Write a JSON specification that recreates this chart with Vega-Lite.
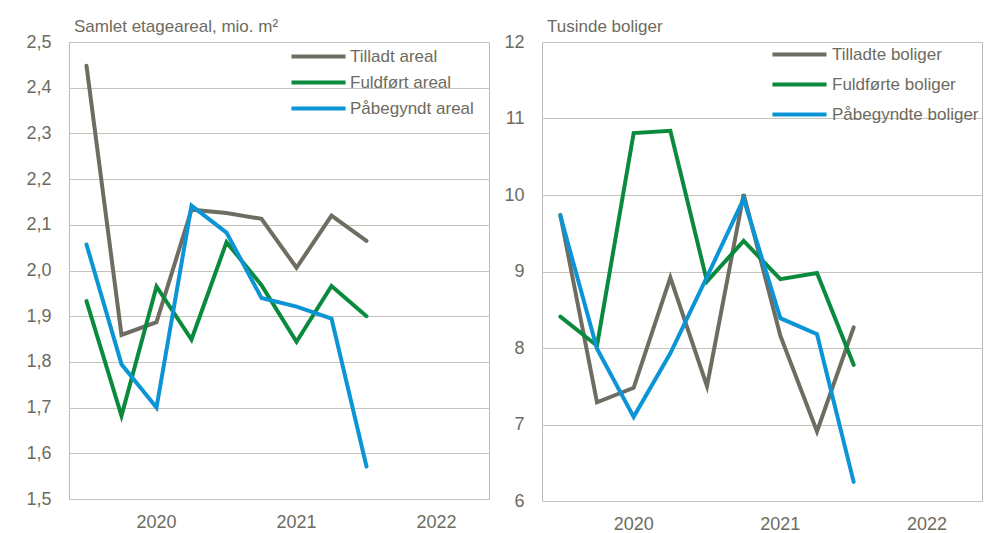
{
  "$schema": "https://vega.github.io/schema/vega-lite/v6.json",
  "background": "white",
  "padding": {"left": 25, "top": 17, "right": 5, "bottom": 5},
  "spacing": 13,
  "config": {
    "font": "Liberation Sans",
    "view": {"stroke": "#bcbab0", "strokeWidth": 1},
    "axis": {"labelColor": "#6d6b60", "labelFontSize": 18, "labelFont": "Liberation Sans", "gridColor": "#c6c4ba", "gridWidth": 1, "ticks": false, "domain": false, "title": null},
    "legend": {"labelColor": "#6d6b60", "labelFontSize": 17, "labelFont": "Liberation Sans", "title": null},
    "line": {"strokeWidth": 4, "strokeCap": "round"}
  },
  "datasets": {
    "areal": [
      {"kvartal": "2020K1", "serie": "Tilladt areal", "v": 2.448},
      {"kvartal": "2020K2", "serie": "Tilladt areal", "v": 1.859},
      {"kvartal": "2020K3", "serie": "Tilladt areal", "v": 1.887},
      {"kvartal": "2020K4", "serie": "Tilladt areal", "v": 2.133},
      {"kvartal": "2021K1", "serie": "Tilladt areal", "v": 2.126},
      {"kvartal": "2021K2", "serie": "Tilladt areal", "v": 2.113},
      {"kvartal": "2021K3", "serie": "Tilladt areal", "v": 2.006},
      {"kvartal": "2021K4", "serie": "Tilladt areal", "v": 2.12},
      {"kvartal": "2022K1", "serie": "Tilladt areal", "v": 2.065},
      {"kvartal": "2020K1", "serie": "Fuldført areal", "v": 1.933},
      {"kvartal": "2020K2", "serie": "Fuldført areal", "v": 1.682},
      {"kvartal": "2020K3", "serie": "Fuldført areal", "v": 1.965},
      {"kvartal": "2020K4", "serie": "Fuldført areal", "v": 1.849},
      {"kvartal": "2021K1", "serie": "Fuldført areal", "v": 2.062},
      {"kvartal": "2021K2", "serie": "Fuldført areal", "v": 1.968},
      {"kvartal": "2021K3", "serie": "Fuldført areal", "v": 1.844},
      {"kvartal": "2021K4", "serie": "Fuldført areal", "v": 1.966},
      {"kvartal": "2022K1", "serie": "Fuldført areal", "v": 1.9},
      {"kvartal": "2020K1", "serie": "Påbegyndt areal", "v": 2.057},
      {"kvartal": "2020K2", "serie": "Påbegyndt areal", "v": 1.795},
      {"kvartal": "2020K3", "serie": "Påbegyndt areal", "v": 1.7},
      {"kvartal": "2020K4", "serie": "Påbegyndt areal", "v": 2.142},
      {"kvartal": "2021K1", "serie": "Påbegyndt areal", "v": 2.083},
      {"kvartal": "2021K2", "serie": "Påbegyndt areal", "v": 1.94},
      {"kvartal": "2021K3", "serie": "Påbegyndt areal", "v": 1.921},
      {"kvartal": "2021K4", "serie": "Påbegyndt areal", "v": 1.895},
      {"kvartal": "2022K1", "serie": "Påbegyndt areal", "v": 1.571}
    ],
    "boliger": [
      {"kvartal": "2020K1", "serie": "Tilladte boliger", "v": 9.74},
      {"kvartal": "2020K2", "serie": "Tilladte boliger", "v": 7.29},
      {"kvartal": "2020K3", "serie": "Tilladte boliger", "v": 7.48},
      {"kvartal": "2020K4", "serie": "Tilladte boliger", "v": 8.92},
      {"kvartal": "2021K1", "serie": "Tilladte boliger", "v": 7.5},
      {"kvartal": "2021K2", "serie": "Tilladte boliger", "v": 10.01},
      {"kvartal": "2021K3", "serie": "Tilladte boliger", "v": 8.16},
      {"kvartal": "2021K4", "serie": "Tilladte boliger", "v": 6.91},
      {"kvartal": "2022K1", "serie": "Tilladte boliger", "v": 8.27},
      {"kvartal": "2020K1", "serie": "Fuldførte boliger", "v": 8.41},
      {"kvartal": "2020K2", "serie": "Fuldførte boliger", "v": 8.03},
      {"kvartal": "2020K3", "serie": "Fuldførte boliger", "v": 10.81},
      {"kvartal": "2020K4", "serie": "Fuldførte boliger", "v": 10.84},
      {"kvartal": "2021K1", "serie": "Fuldførte boliger", "v": 8.87},
      {"kvartal": "2021K2", "serie": "Fuldførte boliger", "v": 9.4},
      {"kvartal": "2021K3", "serie": "Fuldførte boliger", "v": 8.9},
      {"kvartal": "2021K4", "serie": "Fuldførte boliger", "v": 8.98},
      {"kvartal": "2022K1", "serie": "Fuldførte boliger", "v": 7.78},
      {"kvartal": "2020K1", "serie": "Påbegyndte boliger", "v": 9.73},
      {"kvartal": "2020K2", "serie": "Påbegyndte boliger", "v": 7.99},
      {"kvartal": "2020K3", "serie": "Påbegyndte boliger", "v": 7.1},
      {"kvartal": "2020K4", "serie": "Påbegyndte boliger", "v": 7.93},
      {"kvartal": "2021K1", "serie": "Påbegyndte boliger", "v": 8.93},
      {"kvartal": "2021K2", "serie": "Påbegyndte boliger", "v": 9.95},
      {"kvartal": "2021K3", "serie": "Påbegyndte boliger", "v": 8.39},
      {"kvartal": "2021K4", "serie": "Påbegyndte boliger", "v": 8.18},
      {"kvartal": "2022K1", "serie": "Påbegyndte boliger", "v": 6.25}
    ]
  },
  "hconcat": [
    {
      "width": 420,
      "height": 457,
      "data": {"name": "areal"},
      "title": {"text": "Samlet etageareal, mio. m²", "anchor": "start", "frame": "group", "fontSize": 17, "fontWeight": "normal", "color": "#6d6b60", "offset": -3, "dx": 5},
      "mark": {"type": "line"},
      "encoding": {
        "x": {
          "field": "kvartal", "type": "ordinal",
          "scale": {"type": "band", "paddingInner": 0, "paddingOuter": 0, "domain": ["2020K1","2020K2","2020K3","2020K4","2021K1","2021K2","2021K3","2021K4","2022K1","2022K2","2022K3","2022K4"]},
          "axis": {"bandPosition": 0, "labelAngle": 0, "labelPadding": 14, "labelOverlap": false,
            "labelExpr": "slice(datum.value, 4) == 'K3' ? slice(datum.value, 0, 4) : ''",
            "gridOpacity": {"condition": {"test": "slice(datum.value, 4) == 'K1'", "value": 1}, "value": 0}}
        },
        "y": {
          "field": "v", "type": "quantitative",
          "scale": {"domain": [1.5, 2.5], "nice": false, "zero": false},
          "axis": {"values": [1.5,1.6,1.7,1.8,1.9,2.0,2.1,2.2,2.3,2.4,2.5], "labelPadding": 18,
            "labelExpr": "replace(format(datum.value, '.1f'), '.', ',')"}
        },
        "color": {
          "field": "serie", "type": "nominal",
          "scale": {"domain": ["Tilladt areal", "Fuldført areal", "Påbegyndt areal"], "range": ["#6f6d62", "#0a8a3c", "#0b95d6"]},
          "legend": {"orient": "none", "legendX": 241, "legendY": 6, "symbolType": "M-5,0H5", "symbolSize": 117, "symbolStrokeWidth": 4.5, "labelOffset": 23, "rowPadding": 8}
        }
      }
    },
    {
      "width": 440,
      "height": 459,
      "data": {"name": "boliger"},
      "title": {"text": "Tusinde boliger", "anchor": "start", "frame": "group", "fontSize": 17, "fontWeight": "normal", "color": "#6d6b60", "offset": -3, "dx": 5},
      "mark": {"type": "line"},
      "encoding": {
        "x": {
          "field": "kvartal", "type": "ordinal",
          "scale": {"type": "band", "paddingInner": 0, "paddingOuter": 0, "domain": ["2020K1","2020K2","2020K3","2020K4","2021K1","2021K2","2021K3","2021K4","2022K1","2022K2","2022K3","2022K4"]},
          "axis": {"bandPosition": 0, "labelAngle": 0, "labelPadding": 14, "labelOverlap": false,
            "labelExpr": "slice(datum.value, 4) == 'K3' ? slice(datum.value, 0, 4) : ''",
            "gridOpacity": {"condition": {"test": "slice(datum.value, 4) == 'K1'", "value": 1}, "value": 0}}
        },
        "y": {
          "field": "v", "type": "quantitative",
          "scale": {"domain": [6, 12], "nice": false, "zero": false},
          "axis": {"values": [6,7,8,9,10,11,12], "labelPadding": 18, "format": "d"}
        },
        "color": {
          "field": "serie", "type": "nominal",
          "scale": {"domain": ["Tilladte boliger", "Fuldførte boliger", "Påbegyndte boliger"], "range": ["#6f6d62", "#0a8a3c", "#0b95d6"]},
          "legend": {"orient": "none", "legendX": 249, "legendY": 4, "symbolType": "M-5,0H5", "symbolSize": 117, "symbolStrokeWidth": 4.5, "labelOffset": 24, "rowPadding": 12}
        }
      }
    }
  ],
  "resolve": {"scale": {"color": "independent"}, "legend": {"color": "independent"}}
}
